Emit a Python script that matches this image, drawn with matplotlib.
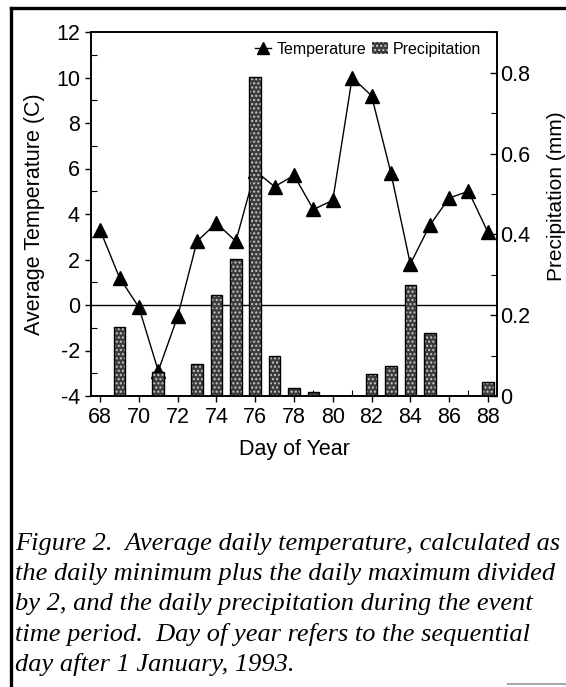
import matplotlib
matplotlib.use("Agg")
import matplotlib.pyplot as plt
from matplotlib.lines import Line2D
from matplotlib.patches import Patch
from matplotlib.ticker import MultipleLocator

# Daily series, day of year 68-88 (1993)
days = list(range(68, 89))
temperature = [3.3, 1.2, -0.1, -2.9, -0.5, 2.8, 3.6, 2.8, 5.9, 5.2, 5.7,
               4.2, 4.6, 10.0, 9.2, 5.8, 1.8, 3.5, 4.7, 5.0, 3.2]
precipitation = [0.0, 0.17, 0.0, 0.06, 0.0, 0.08, 0.25, 0.34, 0.79, 0.10, 0.02,
                 0.01, 0.0, 0.0, 0.055, 0.075, 0.275, 0.155, 0.0, 0.0, 0.035]
x_ticks = list(range(68, 89, 2))
temp_ticks = list(range(-4, 13, 2))
precip_ticks = [0, 0.2, 0.4, 0.6, 0.8]
precip_labels = ['0', '0.2', '0.4', '0.6', '0.8']

caption_lines = [
    "Figure 2.  Average daily temperature, calculated as",
    "the daily minimum plus the daily maximum divided",
    "by 2, and the daily precipitation during the event",
    "time period.  Day of year refers to the sequential",
    "day after 1 January, 1993.",
]

plt.rcParams['font.family'] = ['Liberation Sans', 'DejaVu Sans']
plt.rcParams['axes.unicode_minus'] = False
W, H = 566, 687
fig = plt.figure(figsize=(W / 100, H / 100), dpi=100)

ax1 = fig.add_axes([91 / W, 1 - 396 / H, (497 - 91) / W, (396 - 32) / H])
ax2 = ax1.twinx()

# temperature line with triangles (under the bars)
ax1.axhline(0, color='black', lw=1.0, zorder=1)
ax1.plot(days, temperature, color='black', lw=1.0, marker='^', ms=10,
         markerfacecolor='black', markeredgecolor='black', zorder=2)
ax1.set_xlim(67.53, 88.47)
ax1.set_ylim(-4, 12)
ax1.set_xticks(x_ticks)
ax1.set_yticks(temp_ticks)
ax1.xaxis.set_minor_locator(MultipleLocator(1))
ax1.yaxis.set_minor_locator(MultipleLocator(1))

# precipitation bars: dark stippled fill with black outline
ax2.bar(days, precipitation, width=0.6, color='#3c3c3c', edgecolor='#c9c9c9',
        hatch='....', lw=0, zorder=2)
ax2.bar(days, precipitation, width=0.6, fill=False, edgecolor='black',
        lw=1.0, zorder=3)
ax2.set_ylim(0, 0.901)
ax2.set_yticks(precip_ticks)
ax2.set_yticklabels(precip_labels)
ax2.yaxis.set_minor_locator(MultipleLocator(0.1))

for ax in (ax1, ax2):
    for sp in ax.spines.values():
        sp.set_linewidth(1.2)
    ax.tick_params(which='minor', direction='in', length=4, width=0.8)

ax1.tick_params(axis='y', which='major', direction='out', length=4, width=1,
                labelsize=15.5, pad=4)
ax1.tick_params(axis='x', which='major', direction='out', length=4, width=1,
                labelsize=15.5, pad=4)
ax2.tick_params(axis='y', which='major', direction='in', length=5, width=1,
                labelsize=15.5, pad=2)

ax1.set_ylabel('Average Temperature (C)', fontsize=15.5)
ax1.yaxis.set_label_coords(-0.113, 0.5)
ax1.set_xlabel('Day of Year', fontsize=15.5)
ax1.xaxis.set_label_coords(0.5, -0.118)
ax2.set_ylabel('Precipitation (mm)', fontsize=15, rotation=90)
ax2.yaxis.set_label_coords(1.122, 0.55)

handles = [
    Line2D([], [], color='black', lw=1.0, marker='^', ms=8,
           markerfacecolor='black'),
    Patch(facecolor='#3c3c3c', edgecolor='#c9c9c9', hatch='....', lw=0),
]
ax2.legend(handles, ['Temperature', 'Precipitation'], loc='upper right',
           ncol=2, frameon=False, fontsize=11.5, handlelength=1.0,
           handletextpad=0.3, columnspacing=0.4, borderaxespad=0.2,
           bbox_to_anchor=(0.985, 1.0))

# caption below the chart
for i, line in enumerate(caption_lines):
    fig.text(15 / W, 1 - (544 + 30 * i) / H, line, ha='left', va='center',
             fontsize=19, style='italic',
             family=['Liberation Serif', 'DejaVu Serif'])

# page frame
fig.add_artist(Line2D([11 / W, 11 / W], [0, 1 - 8 / H], color='black',
                      lw=2.4, transform=fig.transFigure))
fig.add_artist(Line2D([11 / W, 1], [1 - 8 / H, 1 - 8 / H], color='black',
                      lw=2.4, transform=fig.transFigure))
fig.add_artist(Line2D([508 / W, 1], [1 - 684 / H, 1 - 684 / H],
                      color='#a8a8a8', lw=1.5, transform=fig.transFigure))

fig.savefig('out.png', dpi=100)
